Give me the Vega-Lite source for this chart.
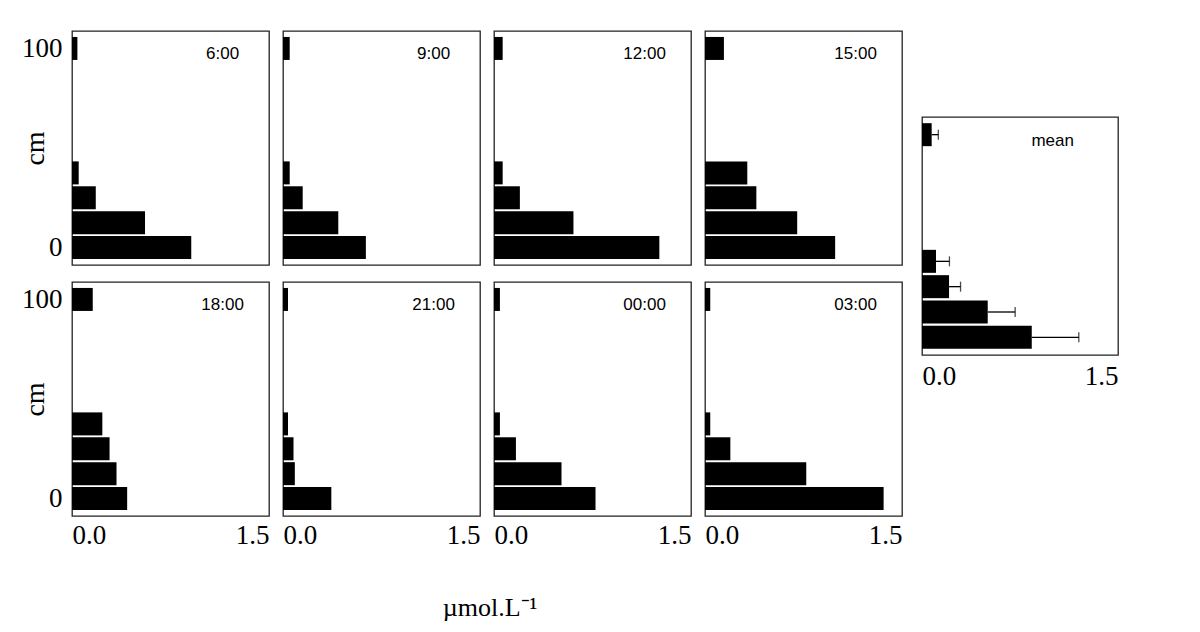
{
  "$schema": "https://vega.github.io/schema/vega-lite/v6.json",
  "background": "white",
  "padding": {"left": 21, "top": 30, "right": 5, "bottom": 5},
  "config": {
    "view": {"stroke": "#222", "strokeWidth": 1.3},
    "header": {"labels": false, "title": null, "labelFontSize": 0, "labelPadding": 0},
    "headerFacet": {"labels": false, "title": null, "labelFontSize": 0, "labelPadding": 0},
    "axis": {
      "labelFont": "Liberation Serif", "labelFontSize": 27, "labelColor": "black",
      "titleFont": "Liberation Serif", "titleFontSize": 28, "titleFontWeight": "normal", "titleColor": "black",
      "ticks": false, "grid": false, "domain": false
    }
  },
  "datasets": {
    "profiles": [
      {"time": "6:00", "depth": 0, "conc": 0.908},
      {"time": "6:00", "depth": 12.5, "conc": 0.556},
      {"time": "6:00", "depth": 25, "conc": 0.181},
      {"time": "6:00", "depth": 37.5, "conc": 0.051},
      {"time": "6:00", "depth": 100, "conc": 0.041},
      {"time": "9:00", "depth": 0, "conc": 0.631},
      {"time": "9:00", "depth": 12.5, "conc": 0.421},
      {"time": "9:00", "depth": 25, "conc": 0.150},
      {"time": "9:00", "depth": 37.5, "conc": 0.051},
      {"time": "9:00", "depth": 100, "conc": 0.051},
      {"time": "12:00", "depth": 0, "conc": 1.259},
      {"time": "12:00", "depth": 12.5, "conc": 0.605},
      {"time": "12:00", "depth": 25, "conc": 0.197},
      {"time": "12:00", "depth": 37.5, "conc": 0.066},
      {"time": "12:00", "depth": 100, "conc": 0.066},
      {"time": "15:00", "depth": 0, "conc": 0.991},
      {"time": "15:00", "depth": 12.5, "conc": 0.702},
      {"time": "15:00", "depth": 25, "conc": 0.391},
      {"time": "15:00", "depth": 37.5, "conc": 0.322},
      {"time": "15:00", "depth": 100, "conc": 0.144},
      {"time": "18:00", "depth": 0, "conc": 0.420},
      {"time": "18:00", "depth": 12.5, "conc": 0.339},
      {"time": "18:00", "depth": 25, "conc": 0.286},
      {"time": "18:00", "depth": 37.5, "conc": 0.231},
      {"time": "18:00", "depth": 100, "conc": 0.158},
      {"time": "21:00", "depth": 0, "conc": 0.368},
      {"time": "21:00", "depth": 12.5, "conc": 0.090},
      {"time": "21:00", "depth": 25, "conc": 0.080},
      {"time": "21:00", "depth": 37.5, "conc": 0.038},
      {"time": "21:00", "depth": 100, "conc": 0.038},
      {"time": "00:00", "depth": 0, "conc": 0.773},
      {"time": "00:00", "depth": 12.5, "conc": 0.514},
      {"time": "00:00", "depth": 25, "conc": 0.167},
      {"time": "00:00", "depth": 37.5, "conc": 0.045},
      {"time": "00:00", "depth": 100, "conc": 0.045},
      {"time": "03:00", "depth": 0, "conc": 1.360},
      {"time": "03:00", "depth": 12.5, "conc": 0.771},
      {"time": "03:00", "depth": 25, "conc": 0.193},
      {"time": "03:00", "depth": 37.5, "conc": 0.040},
      {"time": "03:00", "depth": 100, "conc": 0.040}
    ],
    "mean": [
      {"label": "mean", "depth": 0, "conc": 0.840, "upper": 1.200},
      {"label": "mean", "depth": 12.5, "conc": 0.503, "upper": 0.713},
      {"label": "mean", "depth": 25, "conc": 0.207, "upper": 0.295},
      {"label": "mean", "depth": 37.5, "conc": 0.107, "upper": 0.210},
      {"label": "mean", "depth": 100, "conc": 0.074, "upper": 0.125}
    ]
  },
  "hconcat": [
    {
      "data": {"name": "profiles"},
      "facet": {
        "field": "time", "type": "nominal",
        "sort": ["6:00", "9:00", "12:00", "15:00", "18:00", "21:00", "00:00", "03:00"],
        "header": {"title": null, "labels": false, "labelExpr": "''", "labelFontSize": 0, "labelPadding": 0}
      },
      "columns": 4,
      "spacing": {"row": 15, "column": 12},
      "title": {"text": "µmol.L⁻¹", "orient": "bottom", "anchor": "middle", "dx": 28, "font": "Liberation Serif", "fontSize": 26, "fontWeight": "normal", "color": "black", "offset": 47},
      "spec": {
        "width": 197,
        "height": 234,
        "layer": [
          {
            "mark": {"type": "bar", "color": "black", "size": 23, "orient": "horizontal"},
            "encoding": {
              "y": {"field": "depth", "type": "quantitative",
                "scale": {"domain": [-6.25, 106.25], "nice": false, "zero": false},
                "axis": {"values": [0, 100], "title": "cm", "labelPadding": 9, "titlePadding": -28}},
              "x": {"field": "conc", "type": "quantitative",
                "scale": {"domain": [0, 1.5], "nice": false},
                "axis": {"values": [0, 1.5], "format": ".1f", "title": null, "labelPadding": 5}}
            }
          },
          {
            "transform": [{"filter": "datum.depth == 100"}],
            "mark": {"type": "text", "font": "Liberation Sans", "fontSize": 17, "align": "center", "baseline": "middle", "color": "black"},
            "encoding": {
              "x": {"datum": 1.147, "type": "quantitative"},
              "y": {"datum": 97, "type": "quantitative"},
              "text": {"field": "time"}
            }
          }
        ]
      }
    },
    {
      "data": {"name": "mean"},
      "spacing": 20,
      "vconcat": [
        {
          "width": 196,
          "height": 65,
          "view": {"stroke": null},
          "mark": {"type": "text", "opacity": 0},
          "encoding": {}
        },
        {
          "width": 196,
          "height": 238,
          "layer": [
            {
              "mark": {"type": "bar", "color": "black", "size": 23, "orient": "horizontal"},
              "encoding": {
                "y": {"field": "depth", "type": "quantitative",
                  "scale": {"domain": [-6.25, 106.25], "nice": false, "zero": false},
                  "axis": {"labels": false, "title": null}},
                "x": {"field": "conc", "type": "quantitative",
                  "scale": {"domain": [0, 1.5], "nice": false},
                  "axis": {"values": [0, 1.5], "format": ".1f", "title": null, "labelPadding": 8}}
              }
            },
            {
              "mark": {"type": "rule", "color": "black", "strokeWidth": 1.3},
              "encoding": {
                "y": {"field": "depth", "type": "quantitative"},
                "x": {"field": "conc", "type": "quantitative"},
                "x2": {"field": "upper"}
              }
            },
            {
              "mark": {"type": "tick", "color": "black", "orient": "vertical", "size": 10, "thickness": 1.3},
              "encoding": {
                "y": {"field": "depth", "type": "quantitative"},
                "x": {"field": "upper", "type": "quantitative"}
              }
            },
            {
              "transform": [{"filter": "datum.depth == 100"}],
              "mark": {"type": "text", "font": "Liberation Sans", "fontSize": 17, "align": "center", "baseline": "middle", "color": "black"},
              "encoding": {
                "x": {"datum": 1.0, "type": "quantitative"},
                "y": {"datum": 97, "type": "quantitative"},
                "text": {"field": "label"}
              }
            }
          ]
        }
      ]
    }
  ],
  "spacing": 18
}
